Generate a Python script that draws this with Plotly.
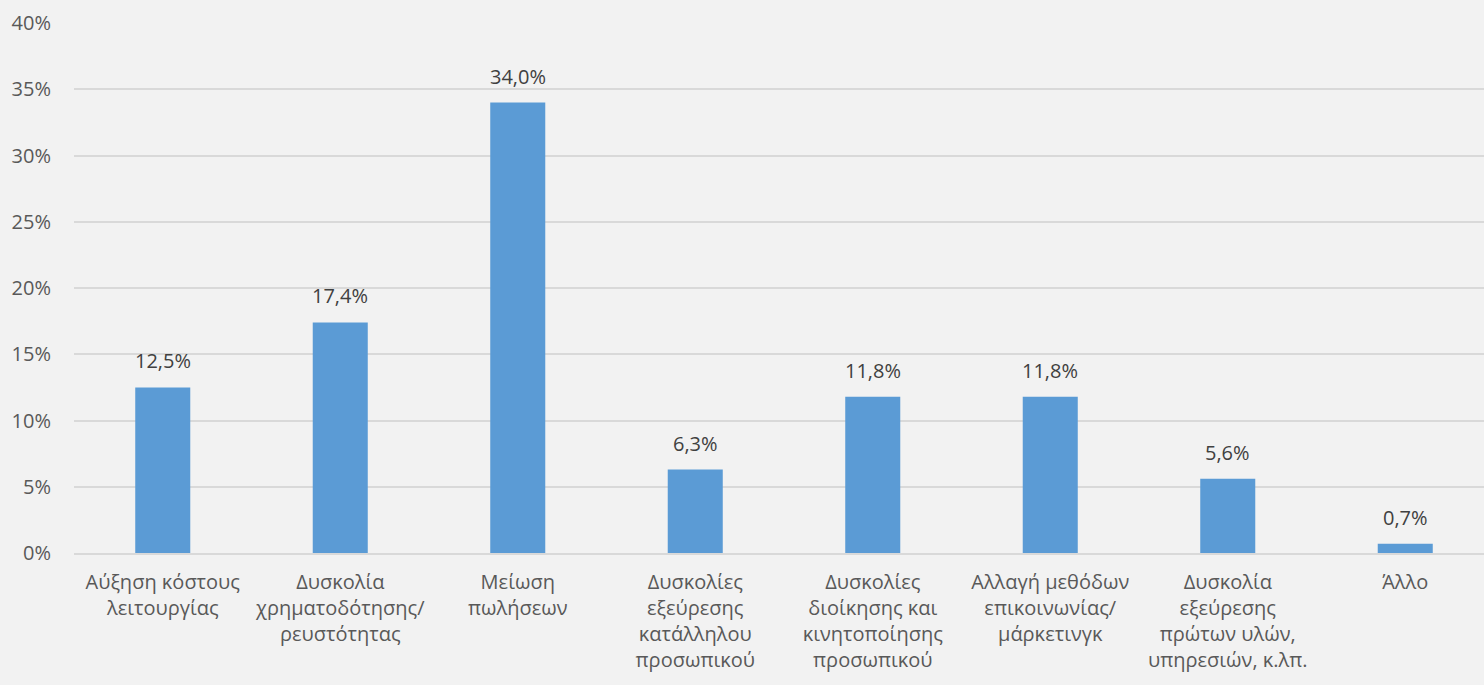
import plotly.graph_objects as go

categories = [
    "Αύξηση κόστους<br>λειτουργίας",
    "Δυσκολία<br>χρηματοδότησης/<br>ρευστότητας",
    "Μείωση<br>πωλήσεων",
    "Δυσκολίες<br>εξεύρεσης<br>κατάλληλου<br>προσωπικού",
    "Δυσκολίες<br>διοίκησης και<br>κινητοποίησης<br>προσωπικού",
    "Αλλαγή μεθόδων<br>επικοινωνίας/<br>μάρκετινγκ",
    "Δυσκολία<br>εξεύρεσης<br>πρώτων υλών,<br>υπηρεσιών, κ.λπ.",
    "Άλλο",
]
values = [12.5, 17.4, 34.0, 6.3, 11.8, 11.8, 5.6, 0.7]
labels = [f"{v:.1f}%".replace(".", ",") for v in values]
tick_vals = [0, 5, 10, 15, 20, 25, 30, 35, 40]
tick_text = [f"{t}%" for t in tick_vals]

FONT = "Open Sans"
FS = 20

fig = go.Figure(
    go.Bar(
        x=categories,
        y=values,
        marker=dict(color="#5b9bd5", line=dict(width=0)),
        cliponaxis=False,
    )
)

for c, v, t in zip(categories, values, labels):
    fig.add_annotation(
        x=c, y=v, text=t, showarrow=False, yanchor="bottom", yshift=11,
        font=dict(family=FONT, size=FS, color="#404040"),
    )

fig.update_layout(
    width=1494,
    height=685,
    paper_bgcolor="#f2f2f2",
    plot_bgcolor="#f2f2f2",
    margin=dict(l=74, r=0, t=23, b=132),
    bargap=0.69,
    showlegend=False,
    font=dict(family=FONT, size=FS, color="#595959"),
)
fig.update_xaxes(
    showgrid=False,
    showline=True,
    linecolor="#d9d9d9",
    linewidth=2,
    ticks="",
    tickangle=0,
    ticklabelstandoff=10,
    tickfont=dict(family=FONT, size=FS, color="#595959"),
)
fig.update_yaxes(
    range=[0, 40],
    tickvals=tick_vals,
    ticktext=tick_text,
    showgrid=True,
    gridcolor="#d9d9d9",
    gridwidth=2,
    zeroline=False,
    showline=False,
    ticks="",
    ticklabelstandoff=22,
    tickfont=dict(family=FONT, size=FS, color="#595959"),
)

fig.write_html(
    "out.html",
    config={"displayModeBar": False},
    post_script="document.body.style.margin='0';document.body.style.overflow='hidden';document.body.style.background='#f2f2f2';",
)
